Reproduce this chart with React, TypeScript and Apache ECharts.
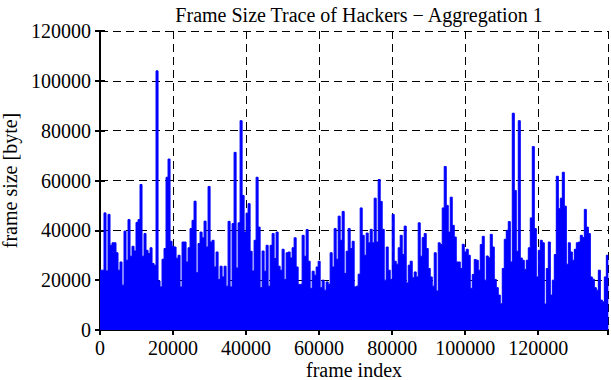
import React, { useEffect, useRef } from "react";
import * as echarts from "echarts";

const BIN = 548;
const X_MAX = 139100;
const X_TICKS = [0, 20000, 40000, 60000, 80000, 100000, 120000];
const Y_MAX = 120000;

// peak frame size (byte) per bin of BIN frames
const peaks: number[] = [
  24000, 24000, 47000, 23700, 46400, 34000, 35000, 35000, 31000, 24000,
  27300, 18000, 39700, 28000, 44300, 29600, 33600, 31700, 43200, 44300,
  58400, 29600, 38700, 32000, 30700, 33000, 26700, 26000, 104000, 19700,
  17300, 28400, 32700, 61300, 68600, 35600, 33600, 33300, 28800, 30000,
  17300, 35300, 35300, 27300, 33000, 40700, 44000, 51700, 23000, 34700,
  39300, 37000, 43700, 33300, 57600, 35300, 36000, 25300, 31300, 20300,
  25600, 21300, 25600, 17600, 43600, 17300, 42700, 71300, 24900, 43000,
  84000, 54000, 39300, 46900, 50700, 31600, 23700, 36000, 61300, 41300,
  17000, 31700, 23600, 34000, 17600, 34000, 38700, 28700, 39300, 25600,
  24000, 32400, 20300, 31000, 31300, 28900, 33000, 37000, 25300, 18300,
  18400, 38000, 29600, 40300, 27600, 16700, 23600, 22000, 25300, 27600,
  17000, 20000, 16000, 19300, 18400, 31000, 25300, 40700, 28400, 45700,
  36000, 47600, 22700, 31600, 40700, 32700, 35600, 17300, 17600, 22400,
  49000, 38000, 30000, 38900, 35000, 40400, 35000, 52900, 35300, 60400,
  51600, 40400, 20000, 33300, 24000, 20300, 46400, 27600, 26400, 33000,
  38000, 30300, 41700, 18900, 26000, 27600, 21000, 23300, 21300, 43000,
  29600, 37100, 38700, 32700, 24700, 21300, 17600, 31000, 15700, 35000,
  34300, 49000, 65600, 50000, 39300, 53300, 42000, 37300, 27300, 27300,
  24700, 34400, 31300, 32400, 30000, 16700, 22300, 28300, 28000, 24000,
  34300, 37600, 20000, 29700, 29000, 38400, 33300, 20300, 17000, 14000,
  10500, 24700, 36400, 40000, 43500, 27300, 87000, 56000, 31600, 84000,
  28900, 28000, 24300, 28000, 33000, 45000, 73600, 40700, 21300, 32000,
  36000, 35000, 10400, 24700, 35300, 14000, 20000, 30300, 61700, 48700,
  52900, 63300, 49700, 26400, 35000, 31300, 28000, 32400, 35000, 35300,
  38000, 37100, 48400, 41300, 38700, 21300, 20400, 17000, 16000, 24000,
  12000, 11300, 21300, 30000,
];

const FONT = "'Liberation Serif', 'Times New Roman', serif";

export default function App() {
  const ref = useRef<HTMLDivElement>(null);
  useEffect(() => {
    if (!ref.current) return;
    const chart = echarts.init(ref.current, null, { renderer: "svg" });
    const data: number[][] = peaks.map((v, i) => [i * BIN, v]);
    data.push([peaks.length * BIN, peaks[peaks.length - 1]]);

    const dashed = { show: true, lineStyle: { color: "#000", width: 1, type: [8, 5] as any } };
    const axLine = { show: true, lineStyle: { color: "#000", width: 2 } };
    const tick = { show: true, inside: true, length: 5, lineStyle: { color: "#000", width: 2 } };
    const lbl = { color: "#000", fontFamily: FONT, fontSize: 20 };

    chart.setOption({
      animation: false,
      backgroundColor: "#fff",
      title: {
        text: "Frame Size Trace of Hackers \u2212 Aggregation 1",
        left: 354,
        top: 0,
        textAlign: "center",
        textStyle: { color: "#000", fontFamily: FONT, fontSize: 20, fontWeight: "normal" },
      },
      grid: { left: 100, right: 3, top: 31, bottom: 50, containLabel: false, outerBoundsMode: "none" } as any,
      xAxis: [
        {
          type: "value",
          min: 0,
          max: X_MAX,
          interval: 20000,
          name: "frame index",
          nameLocation: "middle",
          nameGap: 31,
          nameMoveOverlap: false,
          nameTextStyle: { ...lbl, lineHeight: 18 },
          axisLine: { ...axLine, onZero: false },
          axisTick: tick,
          axisLabel: {
            ...lbl,
            margin: 8,
            showMaxLabel: false,
            formatter: (v: number) => (X_TICKS.includes(v) ? String(v) : ""),
          },
          splitLine: dashed,
        },
        {
          type: "value",
          position: "top",
          min: 0,
          max: X_MAX,
          interval: 20000,
          axisLine: axLine,
          axisTick: tick,
          axisLabel: { show: false },
          splitLine: { show: false },
        },
      ],
      yAxis: [
        {
          type: "value",
          min: 0,
          max: Y_MAX,
          interval: 20000,
          name: "frame size [byte]",
          nameLocation: "middle",
          nameGap: 79,
          nameTextStyle: lbl,
          axisLine: axLine,
          axisTick: tick,
          axisLabel: { ...lbl, margin: 9, formatter: (v: number) => String(v) },
          splitLine: dashed,
        },
        {
          type: "value",
          position: "right",
          min: 0,
          max: Y_MAX,
          interval: 20000,
          axisLine: axLine,
          axisTick: tick,
          axisLabel: { show: false },
          splitLine: { show: false },
        },
      ],
      series: [
        {
          type: "line",
          xAxisIndex: 0,
          yAxisIndex: 0,
          data,
          step: "end",
          symbol: "none",
          clip: true,
          lineStyle: { color: "#0000ff", width: 1 },
          areaStyle: { color: "#0000ff", opacity: 1 },
          z: 1,
        },
      ],
    });
    return () => chart.dispose();
  }, []);
  return (
    <div
      ref={ref}
      style={{ position: "absolute", left: 0, top: 0, width: 611, height: 380 }}
    />
  );
}
